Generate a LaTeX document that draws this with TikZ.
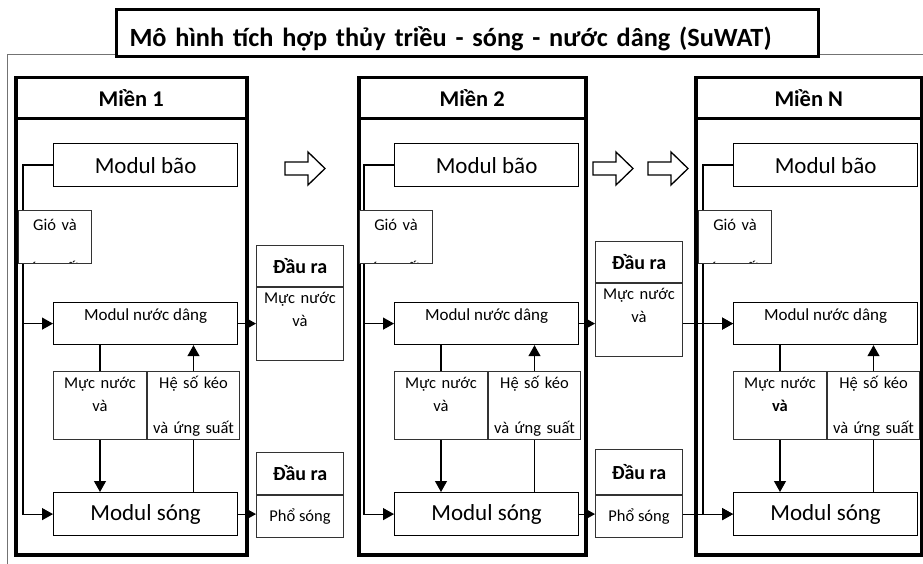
\documentclass[tikz,border=0pt]{standalone}
\usepackage{fontspec}
\setmainfont{Carlito}
\usetikzlibrary{positioning, arrows.meta}
\newcommand\ftitle{\fontsize{26.3}{31}\selectfont\bfseries}
\newcommand\fhead{\fontsize{22.5}{26}\selectfont\bfseries}
\newcommand\fout{\fontsize{20}{24}\selectfont\bfseries}
\newcommand\fbig{\fontsize{23}{27}\selectfont}
\newcommand\fmid{\fontsize{17}{20}\selectfont}
\newcommand\fsm{\fontsize{16.5}{23}\selectfont}
\tikzset{
  mien/.style={draw, line width=3.5pt, anchor=north west, inner sep=0pt},
  modbox/.style={draw, line width=1.2pt, fill=white, anchor=north west, inner sep=0pt,
    minimum width=184},
  databox/.style={draw=black!80, line width=1pt, fill=white, anchor=north west, inner sep=0pt,
    align=center, font=\fsm},
  outhead/.style={draw=black!80, line width=1pt, fill=white, anchor=north west, inner sep=0pt,
    minimum width=87, font=\fout},
  flow/.style={-{Triangle[length=11pt,width=12pt]}, line width=1.2pt},
  link/.style={line width=1.2pt},
  blockarr/.style={line width=1.3pt, fill=white, line join=miter},
}

\begin{document}
\begin{tikzpicture}[x=1pt, y=-1pt]
  \useasboundingbox (0,0) rectangle (923,564);
  % outer frame and title
  \draw[black!55, line width=0.8pt] (7,564) -- (7,54) -- (923,54);
  \node[draw, line width=3pt, fill=white, anchor=north west, inner ysep=0pt, inner xsep=13pt,
    text width=676, align=left, text height=37, text depth=10, font=\ftitle] (title) at (115,8)
    {Mô hình tích hợp thủy triều - sóng - nước dâng (SuWAT)};
  % domains
  \foreach \i/\dx/\mx/\mw/\lbl/\va in {1/0/14/231/1/và, 2/341/357/227/2/và, 3/680/694/226/N/{\textbf{và}}}{
    \node[mien, minimum width=\mw, minimum height=41, font=\fhead] (hd\i) at (\mx,76) {Miền \lbl};
    \node[mien, minimum width=\mw, minimum height=436] (bd\i) at (\mx,117) {};
    \node[modbox, minimum height=43, font=\fbig] (bao\i) at (53+\dx,143) {Modul bão};
    \node[modbox, text height=18, text depth=24, font=\fmid] (nd\i) at (53+\dx,302) {Modul nước dâng};
    \node[databox, text width=93, text height=17, text depth=51] (mn\i) at (53+\dx,371) {Mực nước\\\va};
    \node[databox, text width=92, text height=17, text depth=51] (hs\i) at (147+\dx,371) {Hệ số kéo\\[22pt]và ứng suất};
    \node[modbox, minimum height=43, font=\fbig] (song\i) at (53+\dx,492) {Modul sóng};
    \coordinate (v\i) at (23+\dx,300);
    \draw[flow] (bao\i.west) -| (v\i |- song\i.west) -- (song\i.west);
    \draw[flow] (v\i |- nd\i.west) -- (nd\i.west);
    \draw[link] (mn\i.north) -- (mn\i.north |- nd\i.south);
    \draw[flow] (mn\i.south) -- (mn\i.south |- song\i.north);
    \draw[link] (hs\i.south) -- (hs\i.south |- song\i.north);
    \draw[flow] (hs\i.north) -- (hs\i.north |- nd\i.south);
    \node[databox, minimum width=73, minimum height=53,
      path picture={\node[font=\fsm, align=center, anchor=base, text width=73, inner sep=0pt] (gt\i)
        at ([yshift=-20pt]path picture bounding box.north) {Gió và\\[20pt]áp suất};}] (gio\i) at (18+\dx,210) {};
  }
  % outputs
  \foreach \i/\ox/\ta/\tb/\hb in {1/256/245/452/42, 2/595/241/449/45}{
    \node[outhead, minimum height=41] (drh\i) at (\ox,\ta) {Đầu ra};
    \node[databox, text width=87, text height=16, text depth=57] (drb\i) at (drh\i.south west) {Mực nước\\và};
    \node[outhead, minimum height=\hb] (dph\i) at (\ox,\tb) {Đầu ra};
    \node[databox, minimum width=87, minimum height=42] (dpb\i) at (dph\i.south west) {Phổ sóng};
    \draw[flow] (nd\i.east) -- (drb\i.west |- nd\i.east);
    \draw[flow] (song\i.east) -- (dpb\i.west |- song\i.east);
  }
  \draw[flow] (drb2.east |- nd3.west) -- (nd3.west);
  \draw[flow] (dpb2.east |- song3.west) -- (song3.west);
  % hollow arrows between domains
  \foreach \a in {285,593,648}
    \draw[blockarr] (\a,162) -- ++(23,0) -- ++(0,-10) -- (\a+40,168.5) -- (\a+23,185) -- ++(0,-10) -- (\a,175) -- cycle;
\end{tikzpicture}
\end{document}
